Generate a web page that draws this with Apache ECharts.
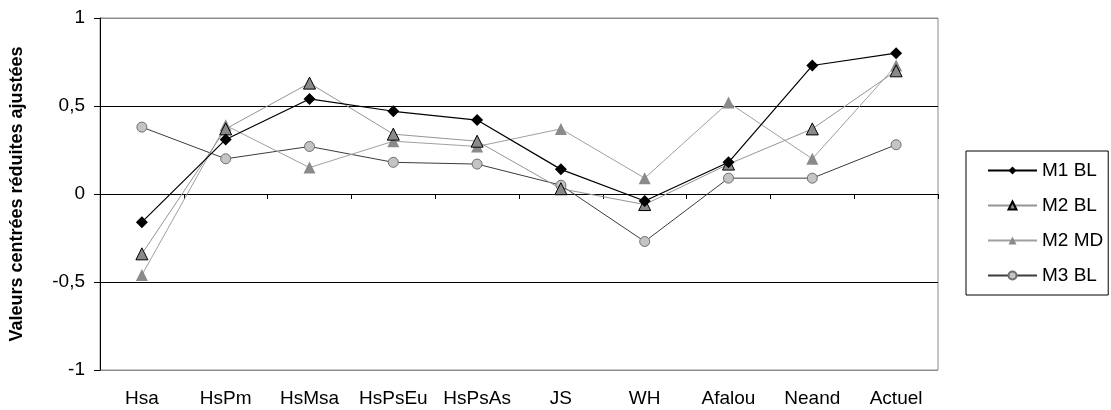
<!DOCTYPE html>
<html>
<head>
<meta charset="utf-8">
<script src="https://cdn.jsdelivr.net/npm/echarts@6/dist/echarts.min.js"></script>
<style>
html,body{margin:0;padding:0;background:#fff;}
#chart{width:1111px;height:410px;}
</style>
</head>
<body>
<div id="chart"></div>
<script>
const categories = ['Hsa','HsPm','HsMsa','HsPsEu','HsPsAs','JS','WH','Afalou','Neand','Actuel'];
const m1BL = [-0.16, 0.31, 0.54, 0.47, 0.42, 0.14, -0.04, 0.18, 0.73, 0.80];
const m2BL = [-0.34, 0.37, 0.63, 0.34, 0.30, 0.03, -0.06, 0.17, 0.37, 0.70];
const m2MD = [-0.46, 0.39, 0.15, 0.30, 0.27, 0.37, 0.09, 0.52, 0.20, 0.73];
const m3BL = [0.38, 0.20, 0.27, 0.18, 0.17, 0.05, -0.27, 0.09, 0.09, 0.28];
const seriesNames = ['M1 BL','M2 BL','M2 MD','M3 BL'];
const yTicks = [-1, -0.5, 0, 0.5, 1];

const font = 'Liberation Sans, Arial, sans-serif';
const chart = echarts.init(document.getElementById('chart'));
chart.setOption({
  animation: false,
  backgroundColor: '#fff',
  grid: {left: 99, right: 173, top: 18, bottom: 40, show: true, borderColor: '#8c8c8c', borderWidth: 1, backgroundColor: '#fff'},
  legend: {
    orient: 'vertical', left: 966, top: 151,
    padding: [10, 5, 10, 21], itemGap: 16, itemWidth: 49, itemHeight: 10,
    borderColor: '#000', borderWidth: 1,
    textStyle: {fontFamily: font, fontSize: 19, color: '#000'},
    data: seriesNames
  },
  xAxis: [
    {type: 'category', data: categories, boundaryGap: true,
     axisLine: {onZero: true, lineStyle: {color: '#000', width: 1}},
     axisTick: {show: true, length: 5, alignWithLabel: false, lineStyle: {color: '#000'}},
     axisLabel: {show: false}, splitLine: {show: false}},
    {type: 'category', data: categories, position: 'bottom', boundaryGap: true,
     axisLine: {show: false, onZero: false}, axisTick: {show: false},
     axisLabel: {interval: 0, margin: 19, fontFamily: font, fontSize: 19, color: '#000'}, splitLine: {show: false}}
  ],
  yAxis: {
    type: 'value', min: yTicks[0], max: yTicks[yTicks.length - 1], interval: 0.5,
    name: 'Valeurs centrées réduites ajustées', nameLocation: 'middle', nameRotate: 90, nameGap: 74,
    nameTextStyle: {fontFamily: font, fontSize: 18, fontWeight: 'bold', color: '#000'},
    axisLine: {show: true, lineStyle: {color: '#000', width: 1}},
    axisTick: {show: true, inside: false, length: 6, lineStyle: {color: '#000'}},
    axisLabel: {margin: 15, fontFamily: font, fontSize: 19, color: '#000',
      formatter: v => String(v).replace('.', ',')},
    splitLine: {show: true, lineStyle: {color: ['#8c8c8c', '#000', '#000', '#000', '#8c8c8c'], width: 1}}
  },
  series: [
    {name: seriesNames[0], type: 'line', data: m1BL, xAxisIndex: 0,
     symbol: 'diamond', symbolSize: 12, z: 5,
     lineStyle: {color: '#000', width: 1.2},
     itemStyle: {color: '#000', borderColor: '#000', borderWidth: 0}},
    {name: seriesNames[1], type: 'line', data: m2BL, xAxisIndex: 0,
     symbol: 'triangle', symbolSize: 12, z: 4,
     lineStyle: {color: '#959595', width: 1},
     itemStyle: {color: '#8a8a8a', borderColor: '#000', borderWidth: 1}},
    {name: seriesNames[2], type: 'line', data: m2MD, xAxisIndex: 0,
     symbol: 'triangle', symbolSize: 12, z: 3,
     lineStyle: {color: '#a0a0a0', width: 1},
     itemStyle: {color: '#8a8a8a', borderWidth: 0}},
    {name: seriesNames[3], type: 'line', data: m3BL, xAxisIndex: 0,
     symbol: 'circle', symbolSize: 10, z: 2,
     lineStyle: {color: '#3c3c3c', width: 1},
     itemStyle: {color: '#c4c4c4', borderColor: '#6e6e6e', borderWidth: 1}}
  ]
});
</script>
</body>
</html>
